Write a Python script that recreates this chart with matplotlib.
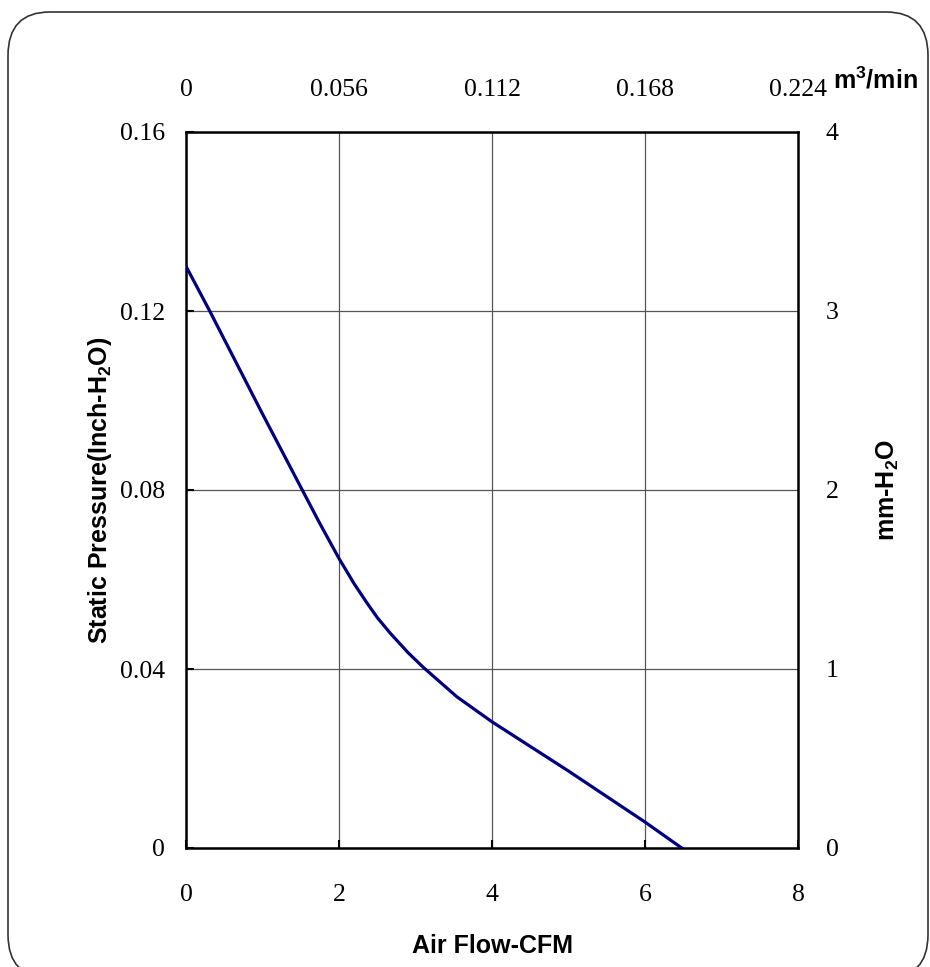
import matplotlib
matplotlib.use("Agg")
import matplotlib.pyplot as plt
from matplotlib.patches import FancyBboxPatch

# P-Q curve
cfm = [0, 0.31, 1.0, 1.52, 1.75, 2.0, 2.2, 2.36, 2.5, 2.67, 2.9, 3.1, 3.54, 4.0, 5.0, 6.0, 6.48]
pressure = [0.130, 0.120, 0.097, 0.080, 0.0725, 0.0647, 0.0590, 0.0549, 0.0515, 0.0480,
            0.0437, 0.0404, 0.0338, 0.0282, 0.0172, 0.0058, 0.0]

cfm_ticks = [0, 2, 4, 6, 8]
m3_ticks = [0, 0.056, 0.112, 0.168, 0.224]
m3_labels = ["0", "0.056", "0.112", "0.168", "0.224"]
inch_ticks = [0, 0.04, 0.08, 0.12, 0.16]
inch_labels = ["0", "0.04", "0.08", "0.12", "0.16"]
mm_ticks = [0, 1, 2, 3, 4]

W, H = 930, 967
serif = ["Liberation Serif", "DejaVu Serif"]
bold = ["Liberation Sans", "DejaVu Sans"]

plt.rcParams["mathtext.fontset"] = "custom"
plt.rcParams["mathtext.rm"] = "Liberation Sans:bold"
plt.rcParams["mathtext.it"] = "Liberation Sans:bold"
plt.rcParams["mathtext.bf"] = "Liberation Sans:bold"

fig = plt.figure(figsize=(W / 100, H / 100), dpi=100)

# rounded frame round the whole chart
box = FancyBboxPatch((8 / W, (H - 978) / H), (928 - 8) / W, (978 - 12) / H,
                     boxstyle="round,pad=0,rounding_size=0.045",
                     transform=fig.transFigure, fill=False,
                     edgecolor="#333333", linewidth=1.2)
fig.patches.append(box)

ax = fig.add_axes([186 / W, (H - 848) / H, (798 - 186) / W, (848 - 132) / H])
ax.plot(cfm, pressure, color="#000080", linewidth=2.3, zorder=3)

ax.set_xlim(0, 8)
ax.set_ylim(0, 0.16)
ax.set_xticks(cfm_ticks)
ax.set_yticks(inch_ticks)
ax.set_yticklabels(inch_labels)
ax.grid(True, color="#555555", linewidth=0.9)
for s in ax.spines.values():
    s.set_linewidth(1.8)
ax.tick_params(axis="both", direction="in", length=6, width=1.5)
ax.tick_params(axis="x", pad=26)
ax.tick_params(axis="y", pad=15)
for lab in ax.get_xticklabels() + ax.get_yticklabels():
    lab.set_family(serif)
    lab.set_fontsize(18.5)

ax.set_xlabel("Air Flow-CFM", family=bold, fontweight="bold", fontsize=18, labelpad=20)
ax.set_ylabel("Static Pressure(Inch-H$_2$O)", family=bold, fontweight="bold",
              fontsize=18, labelpad=4)

# top axis in m3/min
top = ax.twiny()
top.set_xlim(0, 0.224)
top.set_xticks(m3_ticks)
top.set_xticklabels(m3_labels, family=serif, fontsize=18.5)
top.tick_params(axis="x", length=0, pad=22)
for s in top.spines.values():
    s.set_visible(False)
fig.text(875 / W, 1 - 80 / H, "m$^3$/min", family=bold, fontweight="bold",
         fontsize=18, ha="center", va="center")

# right axis in mm-H2O
right = ax.twinx()
right.set_ylim(0, 4)
right.set_yticks(mm_ticks)
right.set_yticklabels([str(v) for v in mm_ticks], family=serif, fontsize=18.5)
right.tick_params(axis="y", length=0, pad=20)
for s in right.spines.values():
    s.set_visible(False)
right.set_ylabel("mm-H$_2$O", family=bold, fontweight="bold", fontsize=18, labelpad=26)

fig.savefig("out.png", dpi=100)
